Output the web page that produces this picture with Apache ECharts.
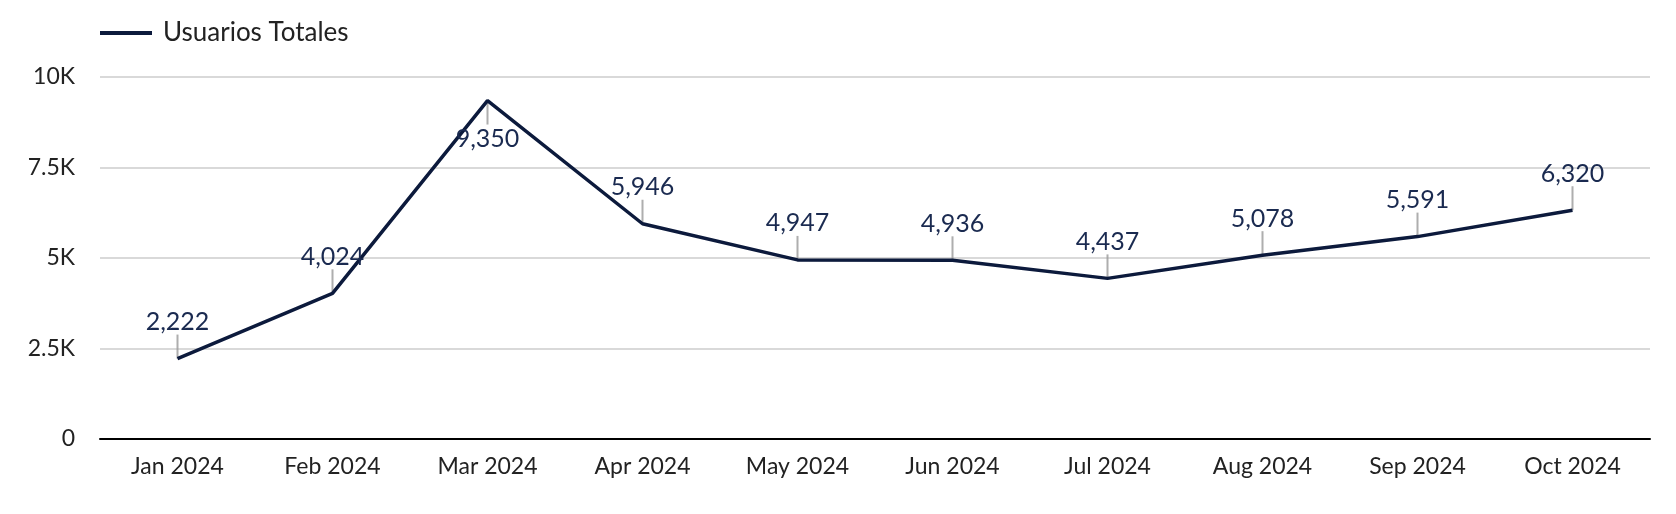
<!DOCTYPE html>
<html>
<head>
<meta charset="utf-8">
<script src="https://cdn.jsdelivr.net/npm/echarts@6/dist/echarts.min.js"></script>
<style>
html,body{margin:0;padding:0;background:#fff;}
#chart{width:1676px;height:514px;}
</style>
</head>
<body>
<div id="chart"></div>
<script>
const seriesName = 'Usuarios Totales';
const categories = ['Jan 2024','Feb 2024','Mar 2024','Apr 2024','May 2024','Jun 2024','Jul 2024','Aug 2024','Sep 2024','Oct 2024'];
const usuarios = [2222, 4024, 9350, 5946, 4947, 4936, 4437, 5078, 5591, 6320];
const yTicks = [0, 2500, 5000, 7500, 10000];

const yMax = yTicks[yTicks.length - 1];
const lineColor = '#0c1a3c';
const fontFamily = 'Lato, "Noto Sans", sans-serif';
const below = v => v / yMax > 0.9;

const chart = echarts.init(document.getElementById('chart'), null, {renderer: 'canvas'});
chart.setOption({
  animation: false,
  textStyle: {fontFamily},
  legend: {
    left: 95, top: 15,
    itemWidth: 52, itemHeight: 4, itemGap: 10,
    icon: 'rect',
    textStyle: {fontSize: 26, color: '#222', fontFamily, padding: [0, 0, 0, 6]},
    data: [seriesName]
  },
  grid: {left: 100, right: 26, top: 77, bottom: 75},
  xAxis: {
    type: 'category',
    data: categories,
    boundaryGap: true,
    axisLine: {lineStyle: {color: '#000', width: 2}},
    axisTick: {show: false},
    axisLabel: {fontSize: 23, color: '#222', margin: 16, fontFamily}
  },
  yAxis: {
    type: 'value',
    min: 0, max: yMax, interval: 2500,
    axisLine: {show: false},
    axisTick: {show: false},
    splitLine: {lineStyle: {color: '#cccccc', width: 1.5}},
    axisLabel: {
      fontSize: 23, color: '#222', margin: 25, fontFamily,
      formatter: v => v === 0 ? '0' : (v / 1000) + 'K'
    }
  },
  series: [
    {
      name: seriesName,
      type: 'line',
      data: usuarios.map(v => below(v) ? {value: v, label: {position: 'bottom', distance: 26}} : v),
      symbol: 'circle',
      symbolSize: 0,
      showSymbol: true,
      lineStyle: {color: lineColor, width: 3.5},
      itemStyle: {color: lineColor},
      label: {
        show: true, position: 'top', distance: 24,
        fontSize: 25, color: '#1a2a50', fontFamily,
        formatter: p => p.value.toLocaleString('en-US')
      },
      labelLayout: {hideOverlap: false},
      z: 3
    },
    {
      name: 'ticks',
      type: 'scatter',
      data: usuarios.map(v => ({value: v, symbolOffset: [0, below(v) ? 12 : -12]})),
      symbol: 'rect',
      symbolSize: [2, 24],
      itemStyle: {color: '#9a9a9a'},
      silent: true,
      z: 2
    }
  ]
});
</script>
</body>
</html>
